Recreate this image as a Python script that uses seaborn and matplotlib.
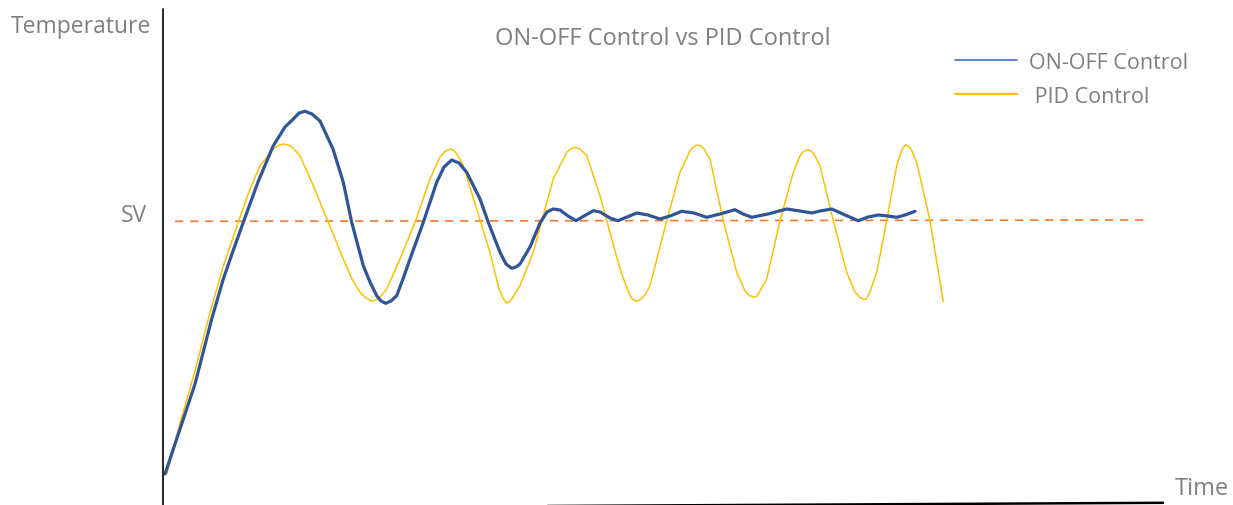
import matplotlib.pyplot as plt
import matplotlib.lines as mlines
import pandas as pd
import seaborn as sns

# time / temperature (arbitrary units, axis origin at 0)
onoff_time = [2, 17, 32, 48.7, 60.3, 70, 80.3, 95, 110.3, 122, 130.3, 136, 142, 149, 157,
              170, 180.3, 188.7, 200.3, 207, 213.7, 218, 222.7, 228, 233.7, 240, 247,
              260.3, 273.7, 281, 288.7, 296, 303.7, 317, 325.3, 337, 343, 348.7, 353, 357,
              367, 377, 384, 390, 397, 405, 413, 421, 430.3, 437, 447, 455, 464, 473.7,
              485, 497, 507, 518.7, 531, 543.7, 557, 572, 580, 588.7, 605, 623.7, 637,
              648.7, 657, 668.7, 682, 695.3, 705, 715.3, 725, 733.7, 742, 752]
onoff_temp = [31, 76, 121, 186, 226, 254, 282.7, 323, 359.3, 378, 386, 392, 393.7, 391, 384,
              356, 322.7, 282.7, 239.3, 223, 209.3, 204, 201.7, 204, 209.3, 226, 246,
              282.7, 322.7, 338, 345, 342, 332.7, 306, 282.7, 252.7, 241, 236.7, 238, 241,
              258, 282, 293, 296, 295, 289, 284.3, 289, 294.3, 293, 287, 284.3, 288, 292,
              290, 286, 289, 293.7, 292, 287.7, 291, 295.3, 291, 287.7, 291, 296, 294,
              292, 294, 296, 290, 284.3, 288, 290, 289, 287.7, 290, 293.7]

pid_time = [3.7, 17, 32, 45.3, 60, 75.3, 87, 97, 110.3, 115, 120.3, 125, 129, 137, 150.3,
            165.3, 180.3, 189, 197, 203, 208.7, 213, 217, 223.7, 237, 252, 267, 277, 282,
            287, 291, 294, 300.3, 313.7, 327, 336, 340, 343.7, 347, 350, 357, 370.3, 378.7,
            390.3, 403.7, 408, 412, 417, 423.7, 437, 443.7, 457, 465, 469, 473.7, 478, 482,
            487, 503.7, 517, 527, 531, 534.7, 538, 541, 547, 560.3, 573.7, 582, 586.5, 591,
            594, 597, 603.7, 617, 630.3, 637, 640.5, 644.3, 648, 651, 657, 670.3, 683.7,
            692, 697, 701.3, 704, 707, 713.7, 723.7, 733.7, 738, 740.5, 742.7, 745.5, 748,
            753.7, 767, 780.3]
pid_temp = [31, 82, 134, 186, 238, 282.7, 316, 339.3, 356, 359.5, 361, 360.2, 358, 349.3,
            319.3, 282.7, 246, 226, 212.7, 207, 203.7, 205, 208, 216, 246, 282.7, 326, 348,
            353.5, 356, 354.5, 351, 339.3, 296, 252.7, 216, 207, 202, 204, 208, 219.3,
            252.7, 284.3, 326, 352.7, 356.3, 357.7, 356, 349.3, 309.3, 284.3, 236, 214,
            206, 203.7, 206, 210, 219.3, 284.3, 332.7, 354, 358.5, 360, 359, 356, 346,
            284.3, 232.7, 214, 209.5, 207.7, 209, 214, 226, 284.3, 332.7, 349, 353.5,
            355.3, 354, 351, 339.3, 284.3, 232.7, 213, 207.5, 205.3, 207, 213, 232.7,
            284.3, 339.3, 353, 357.8, 360, 358.8, 356, 342.7, 284.3, 203.3]

sv_time = [12, 984]
sv_temp = [283.7, 285]

text_grey = "#7f7f7f"

sns.set_style("white")
plt.rcParams["font.family"] = ["Open Sans", "DejaVu Sans"]

fig = plt.figure(figsize=(12.33, 5.06), dpi=100)
ax = fig.add_axes([0, 0, 1, 1])
ax.set_xlim(-163, 1070)
ax.set_ylim(0, 506)
ax.axis("off")

df_onoff = pd.DataFrame({"time": onoff_time, "temp": onoff_temp})
df_pid = pd.DataFrame({"time": pid_time, "temp": pid_temp})

# set value line
ax.plot(sv_time, sv_temp, color="#ED7D31", lw=1.2, ls=(0, (5, 4)))

sns.lineplot(data=df_pid, x="time", y="temp", sort=False, estimator=None,
             color="#FFC000", lw=1.1, ax=ax)
sns.lineplot(data=df_onoff, x="time", y="temp", sort=False, estimator=None,
             color="#2F5597", lw=2.3, ax=ax)

# axes drawn by hand (the original x axis is slightly tilted)
ax.plot([0, 0], [0, 496], color="black", lw=1.2)
ax.plot([0, 1000], [-3, 2.2], color="black", lw=1.8)

ax.text(-12, 479, "Temperature", ha="right", va="center", fontsize=16.5, color=text_grey)
ax.text(-16, 290, "SV", ha="right", va="center", fontsize=16.5, color=text_grey)
ax.text(1012, 17, "Time", ha="left", va="center", fontsize=17, color=text_grey)
ax.text(500, 467, "ON-OFF Control vs PID Control", ha="center", va="center",
        fontsize=17, color=text_grey)

handles = [mlines.Line2D([], [], color="#4472C4", lw=1.2),
           mlines.Line2D([], [], color="#FFC000", lw=1.6)]
ax.legend(handles, ["ON-OFF Control", " PID Control"], loc="upper left",
          bbox_to_anchor=(955 / 1233, 1 - 53 / 506), frameon=False, fontsize=15.5,
          handlelength=2.88, handletextpad=0.56, labelspacing=0.59, borderpad=0,
          borderaxespad=0, labelcolor=text_grey)

fig.savefig("out.png", dpi=100)
